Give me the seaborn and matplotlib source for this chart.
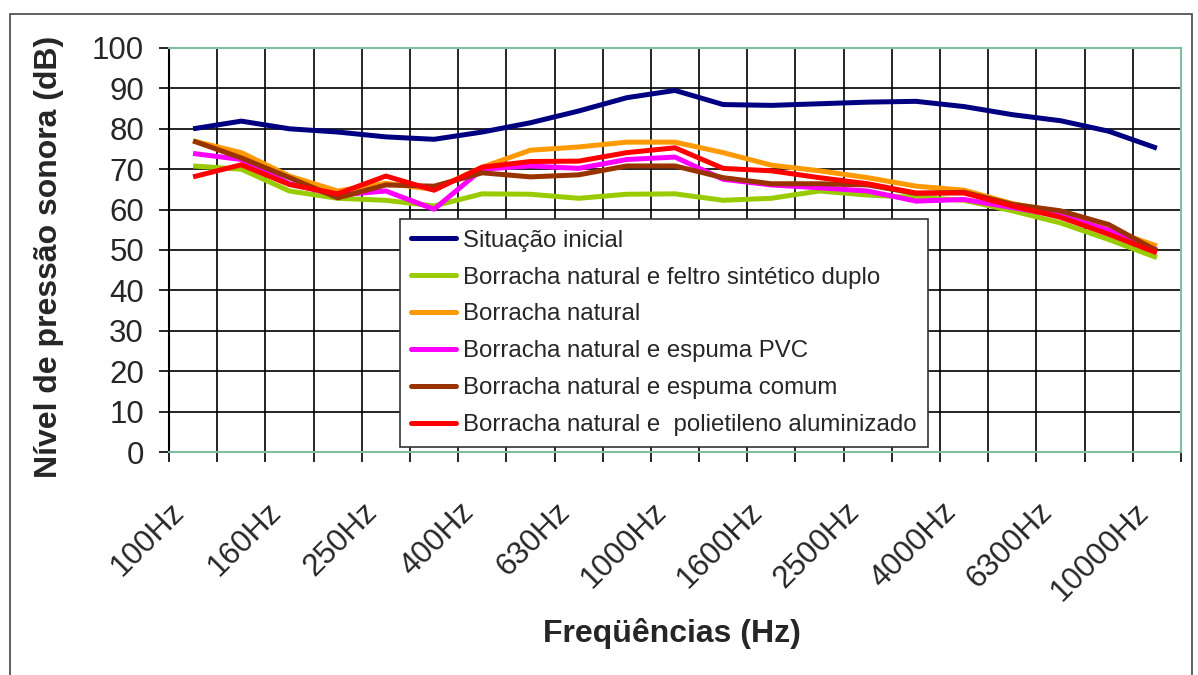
import numpy as np
import pandas as pd
import matplotlib
matplotlib.use('Agg')
import matplotlib.pyplot as plt
from matplotlib.lines import Line2D
from matplotlib.patches import Rectangle
import seaborn as sns

# Data
freqs = ['100Hz', '125Hz', '160Hz', '200Hz', '250Hz', '315Hz', '400Hz', '500Hz',
         '630Hz', '800Hz', '1000Hz', '1250Hz', '1600Hz', '2000Hz', '2500Hz',
         '3150Hz', '4000Hz', '5000Hz', '6300Hz', '8000Hz', '10000Hz']

names = ['Situação inicial',
         'Borracha natural e feltro sintético duplo',
         'Borracha natural',
         'Borracha natural e espuma PVC',
         'Borracha natural e espuma comum',
         'Borracha natural e  polietileno aluminizado']

situacao = [80, 81.9, 80, 79.2, 78, 77.4, 79.2, 81.5, 84.4, 87.7, 89.5,
            86, 85.8, 86.2, 86.6, 86.8, 85.5, 83.5, 82, 79.4, 75.2]
feltro = [70.8, 70, 64.6, 62.8, 62.3, 60.9, 63.9, 63.8, 62.8, 63.8, 63.9,
          62.3, 62.8, 64.6, 63.6, 63, 62.3, 59.7, 56.7, 52.6, 48.1]
borracha = [77, 74.1, 68.3, 64.6, 66.5, 65, 70.5, 74.7, 75.5, 76.7, 76.7,
            74.1, 71, 69.6, 67.9, 65.8, 64.8, 61.5, 59.3, 55.1, 51]
pvc = [73.9, 72.4, 66.4, 63.6, 64.6, 60.1, 70, 70.8, 70.2, 72.4, 73,
       67.5, 66.1, 65.4, 64.6, 62.1, 62.5, 60.5, 58.5, 54.9, 50]
comum = [77, 72.8, 67.9, 62.9, 66.1, 65.8, 69.1, 68.1, 68.6, 70.8, 70.8,
         67.9, 66.4, 66.4, 66.1, 64, 64.3, 61.3, 59.7, 56.3, 49.8]
aluminizado = [68.1, 71.1, 66.2, 63.9, 68.3, 64.8, 70.5, 71.9, 72, 74.1, 75.3,
               70.2, 69.6, 67.9, 66.4, 64.1, 64.1, 60.9, 58.1, 53.9, 49.3]

colors = ['#000080', '#99CC00', '#FF9900', '#FF00FF', '#993300', '#FF0000']

series = [situacao, feltro, borracha, pvc, comum, aluminizado]
rows = []
for name, vals in zip(names, series):
    for i, v in enumerate(vals):
        rows.append({'pos': i, 'freq': freqs[i], 'dB': v, 'serie': name})
df = pd.DataFrame(rows)

sns.set_style('white')
plt.rcParams['font.family'] = ['Liberation Sans', 'DejaVu Sans']

fig = plt.figure(figsize=(11.98, 6.75), dpi=100)
ax = fig.add_axes([169 / 1198, 1 - 452 / 675, 1012 / 1198, 404 / 675])

sns.lineplot(data=df, x='pos', y='dB', hue='serie', hue_order=names,
             palette=colors, linewidth=3.6, sort=False, legend=False, ax=ax,
             solid_capstyle='butt', solid_joinstyle='round')

ax.set_xlim(-0.5, 20.5)
ax.set_ylim(0, 100)

# category boundaries -> gridlines and ticks, labels on every other category
ax.set_xticks(np.arange(-0.5, 21, 1))
ax.set_xticklabels([])
ax.set_xticks(np.arange(0, 21, 2) - 0.27, minor=True)
ax.set_xticklabels(freqs[::2], minor=True, rotation=45, ha='right',
                   va='center', rotation_mode='anchor', fontsize=22.5)
ax.tick_params(axis='x', which='major', length=7, width=1.2, color='black',
               direction='out', bottom=True)
ax.tick_params(axis='x', which='minor', length=0, pad=40)

ax.set_yticks(np.arange(0, 101, 10))
ax.tick_params(axis='y', which='major', length=7, width=1.2, color='black',
               direction='out', left=True, labelsize=22.5, pad=11)

ax.grid(True, which='major', color='black', linewidth=1.2)

for side in ['top', 'right', 'bottom']:
    ax.spines[side].set_color('#7fbf9f')
    ax.spines[side].set_linewidth(1.5)
ax.spines['left'].set_color('black')
ax.spines['left'].set_linewidth(1.5)

ax.set_xlabel('Freqüências (Hz)', fontsize=23, fontweight='bold')
ax.set_ylabel('Nível de pressão sonora (dB)', fontsize=23, fontweight='bold')
ax.xaxis.set_label_coords(0.497, -0.41)
ax.yaxis.set_label_coords(-0.104, 0.483)

handles = [Line2D([0], [0], color=c, linewidth=3.6) for c in colors]
leg = ax.legend(handles, names, loc='upper left', bbox_to_anchor=(0.228, 0.577),
                borderaxespad=0, fontsize=17.3, frameon=True, fancybox=False,
                handlelength=1.9, handletextpad=0.3, labelspacing=0.62,
                borderpad=0.45)
leg.get_frame().set_edgecolor('#333333')
leg.get_frame().set_linewidth(1.2)
leg.get_frame().set_alpha(1)

fig.patches.append(Rectangle((10 / 1198, -0.01), 1182 / 1198, (675 - 14) / 675 + 0.01,
                             transform=fig.transFigure, fill=False,
                             edgecolor='#444444', linewidth=1.2))

plt.savefig('out.png', dpi=100)
